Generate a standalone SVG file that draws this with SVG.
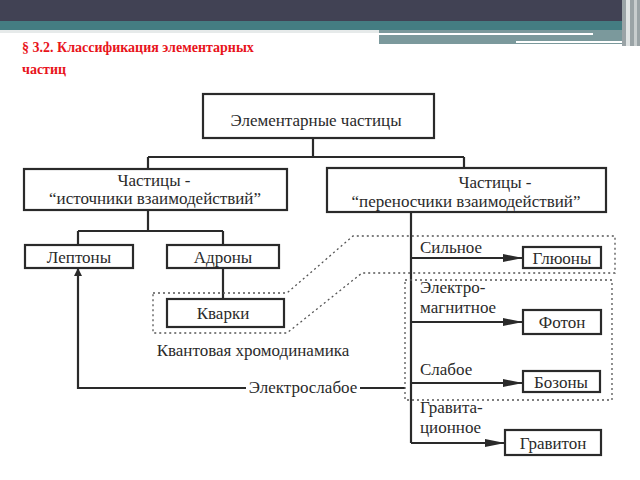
<svg xmlns="http://www.w3.org/2000/svg" width="640" height="480" viewBox="0 0 640 480">
<defs>
<marker id="arr" viewBox="0 0 20 8" refX="20" refY="4" markerWidth="20" markerHeight="8" markerUnits="userSpaceOnUse" orient="auto">
<path d="M0,0 L20,4 L0,8 Z" fill="#2a2a2a"/>
</marker>
<marker id="arrUp" viewBox="0 0 8 10" refX="8" refY="5" markerWidth="8" markerHeight="10" markerUnits="userSpaceOnUse" orient="auto">
<path d="M0,1 L8,5 L0,9 Z" fill="#2a2a2a"/>
</marker>
</defs>
<rect width="640" height="480" fill="#fff"/>
<g id="header">
<rect x="0" y="0" width="640" height="22" fill="#414254"/>
<rect x="0" y="21" width="640" height="10" fill="#447d82"/>
<rect x="379" y="30" width="251" height="14" fill="#7b999c"/>
<rect x="379" y="33" width="214" height="2" fill="#fff"/>
<rect x="516" y="41" width="112" height="2" fill="#fff"/>
<rect x="0" y="30" width="379" height="3" fill="#e6eaea"/>
<rect x="622" y="0" width="18" height="46" fill="#9aa3a6"/>
<rect x="626" y="0" width="4" height="46" fill="#e0e4e4"/>
<rect x="634" y="0" width="3" height="46" fill="#c8cdce"/>
</g>
<g id="title" font-family="Liberation Serif" font-size="14" font-weight="bold" fill="#e8141b">
<text x="22" y="52">§ 3.2. Классификация элементарных</text>
<text x="22" y="74">частиц</text>
</g>
<g id="connectors" fill="none" stroke="#2a2a2a" stroke-width="2.2">
<path d="M313,138 V157 M148,157 H464 M148,157 V169 M464,157 V168"/>
<path d="M148,210 V231 M78,231 H223 M78,231 V245 M223,231 V245 M223,268 V299"/>
<path d="M411,212 V443"/>
<path d="M411,258 H523" marker-end="url(#arr)"/>
<path d="M411,322 H523" marker-end="url(#arr)"/>
<path d="M411,383 H523" marker-end="url(#arr)"/>
<path d="M411,443 H505" marker-end="url(#arr)"/>
<path d="M246,388 H78 V268" marker-end="url(#arrUp)"/>
<path d="M360,388 H405"/>
<g stroke="#555" stroke-width="1.3" stroke-dasharray="2 3">
<path d="M153,293 H287 L353,236 H615 V273 H362 L287,333 H153 Z"/>
<path d="M405,280 H612 V400 H405 Z"/>
</g>
</g>
<g id="nodes" font-family="Liberation Serif" font-size="17">
<g id="n-elem"><rect x="203" y="94" width="231" height="44" fill="#fff" stroke="#2a2a2a" stroke-width="2.2"/><text x="316" y="126" text-anchor="middle" fill="#2a2a2a">Элементарные частицы</text></g>
<g id="n-src"><rect x="24" y="169" width="263" height="41" fill="#fff" stroke="#2a2a2a" stroke-width="2.2"/><text x="154" y="186" text-anchor="middle" fill="#2a2a2a">Частицы -</text><text x="155" y="204" text-anchor="middle" fill="#2a2a2a">“источники взаимодействий”</text></g>
<g id="n-carr"><rect x="327" y="168" width="279" height="44" fill="#fff" stroke="#2a2a2a" stroke-width="2.2"/><text x="495" y="188" text-anchor="middle" fill="#2a2a2a">Частицы -</text><text x="466" y="207" text-anchor="middle" fill="#2a2a2a">“переносчики взаимодействий”</text></g>
<g id="n-lept"><rect x="25" y="245" width="108" height="23" fill="#fff" stroke="#2a2a2a" stroke-width="2.2"/><text x="79" y="263" text-anchor="middle" fill="#2a2a2a">Лептоны</text></g>
<g id="n-adr"><rect x="167" y="245" width="112" height="23" fill="#fff" stroke="#2a2a2a" stroke-width="2.2"/><text x="223" y="263" text-anchor="middle" fill="#2a2a2a">Адроны</text></g>
<g id="n-quark"><rect x="167" y="299" width="117" height="28" fill="#fff" stroke="#2a2a2a" stroke-width="2.2"/><text x="223" y="319" text-anchor="middle" fill="#2a2a2a">Кварки</text></g>
<g id="n-qcd"><text x="253" y="356" text-anchor="middle" fill="#2a2a2a">Квантовая хромодинамика</text></g>
<g id="n-ew"><text x="303" y="393" text-anchor="middle" fill="#2a2a2a">Электрослабое</text></g>
<g id="n-strong"><text x="420" y="253" fill="#2a2a2a">Сильное</text></g>
<g id="n-em"><text x="420" y="293" fill="#2a2a2a">Электро-</text><text x="420" y="313" fill="#2a2a2a">магнитное</text></g>
<g id="n-weak"><text x="420" y="375" fill="#2a2a2a">Слабое</text></g>
<g id="n-grav"><text x="420" y="413" fill="#2a2a2a">Гравита-</text><text x="420" y="433" fill="#2a2a2a">ционное</text></g>
<g id="n-gluon"><rect x="523" y="247" width="78" height="21" fill="#fff" stroke="#2a2a2a" stroke-width="2.2"/><text x="562" y="264" text-anchor="middle" fill="#2a2a2a">Глюоны</text></g>
<g id="n-photon"><rect x="523" y="310" width="78" height="24" fill="#fff" stroke="#2a2a2a" stroke-width="2.2"/><text x="562" y="328" text-anchor="middle" fill="#2a2a2a">Фотон</text></g>
<g id="n-boson"><rect x="523" y="371" width="77" height="21" fill="#fff" stroke="#2a2a2a" stroke-width="2.2"/><text x="561" y="388" text-anchor="middle" fill="#2a2a2a">Бозоны</text></g>
<g id="n-graviton"><rect x="505" y="430" width="96" height="25" fill="#fff" stroke="#2a2a2a" stroke-width="2.2"/><text x="553" y="449" text-anchor="middle" fill="#2a2a2a">Гравитон</text></g>
</g>
</svg>
